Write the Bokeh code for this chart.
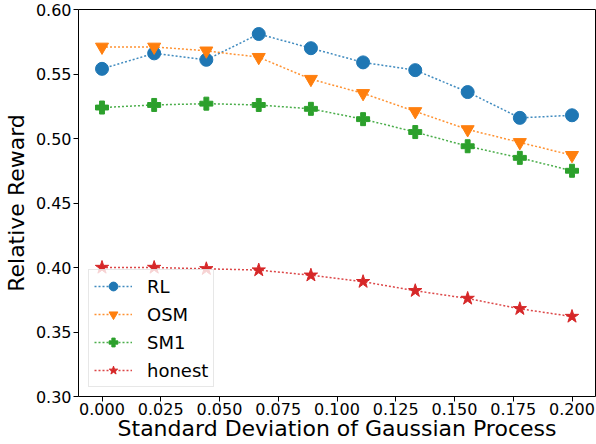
from bokeh.plotting import figure
from bokeh.models import Legend, LegendItem, Range1d, FixedTicker, CustomJSTickFormatter, ColumnDataSource
from bokeh.embed import file_html
from bokeh.resources import INLINE

# ---- data ----
x_vals = [0.0, 0.0222, 0.0444, 0.0667, 0.0889, 0.1111, 0.1333, 0.1556, 0.1778, 0.2]
rl = [0.554, 0.566, 0.561, 0.581, 0.570, 0.559, 0.553, 0.536, 0.516, 0.518]
osm = [0.571, 0.571, 0.568, 0.563, 0.546, 0.535, 0.521, 0.507, 0.497, 0.487]
sm1 = [0.524, 0.526, 0.527, 0.526, 0.523, 0.515, 0.505, 0.494, 0.485, 0.475]
honest = [0.400, 0.400, 0.399, 0.398, 0.394, 0.389, 0.382, 0.376, 0.368, 0.362]
series_names = ["RL", "OSM", "SM1", "honest"]
x_ticks = [0.0, 0.025, 0.05, 0.075, 0.1, 0.125, 0.15, 0.175, 0.2]
y_ticks = [0.30, 0.35, 0.40, 0.45, 0.50, 0.55, 0.60]

colors = ["#1f77b4", "#ff7f0e", "#2ca02c", "#d62728"]
markers = ["circle", "inverted_triangle", "plus", "star"]
sizes = [13, 13, 13, 14]

FONT = "DejaVu Sans"

p = figure(width=596, height=444, output_backend="svg", toolbar_location=None,
           x_range=Range1d(-0.01, 0.21), y_range=Range1d(0.30, 0.60),
           min_border_left=72, min_border_right=1, min_border_top=9, min_border_bottom=48)

p.xgrid.visible = False
p.ygrid.visible = False
p.outline_line_color = "black"
p.outline_line_width = 1
p.background_fill_color = "white"

items = []
for name, ys, c, m, s in zip(series_names, [rl, osm, sm1, honest], colors, markers, sizes):
    src = ColumnDataSource(dict(x=x_vals, y=ys))
    ln = p.line("x", "y", source=src, line_color=c, line_width=1.5, line_dash="2 2", line_alpha=0.85)
    sc = p.scatter("x", "y", source=src, marker=m, size=s, fill_color=c, line_color=c, line_width=1)
    items.append(LegendItem(label=name, renderers=[ln, sc]))

legend = Legend(items=items, location=(10, 9))
legend.label_text_font = FONT
legend.label_text_font_size = "18px"
legend.label_text_color = "black"
legend.glyph_width = 38
legend.glyph_height = 22
legend.label_height = 22
legend.label_standoff = 15
legend.spacing = 6
legend.padding = 5
legend.margin = 0
legend.border_line_color = "#d0d0d0"
legend.border_line_width = 1
legend.background_fill_alpha = 0.8
p.add_layout(legend, "center")

for ax, ticks, fmt in [(p.xaxis[0], x_ticks, 3), (p.yaxis[0], y_ticks, 2)]:
    ax.ticker = FixedTicker(ticks=ticks)
    ax.formatter = CustomJSTickFormatter(code="return tick.toFixed(%d);" % fmt)
    ax.major_label_text_font = FONT
    ax.major_label_text_font_size = "16px"
    ax.major_label_text_color = "black"
    ax.axis_label_text_font = FONT
    ax.axis_label_text_font_size = "22px"
    ax.axis_label_text_font_style = "normal"
    ax.axis_label_text_color = "black"
    ax.major_tick_out = 5
    ax.major_tick_in = 0
    ax.minor_tick_out = 0
    ax.minor_tick_in = 0
    ax.axis_line_color = None
    ax.major_tick_line_color = "black"

p.xaxis.major_label_standoff = 1
p.xaxis.axis_label_standoff = -2
p.yaxis.major_label_standoff = 2
p.yaxis.axis_label_standoff = 4

p.xaxis.axis_label = "Standard Deviation of Gaussian Process"
p.yaxis.axis_label = "Relative Reward"

open("out.html", "w").write(file_html(p, INLINE))
